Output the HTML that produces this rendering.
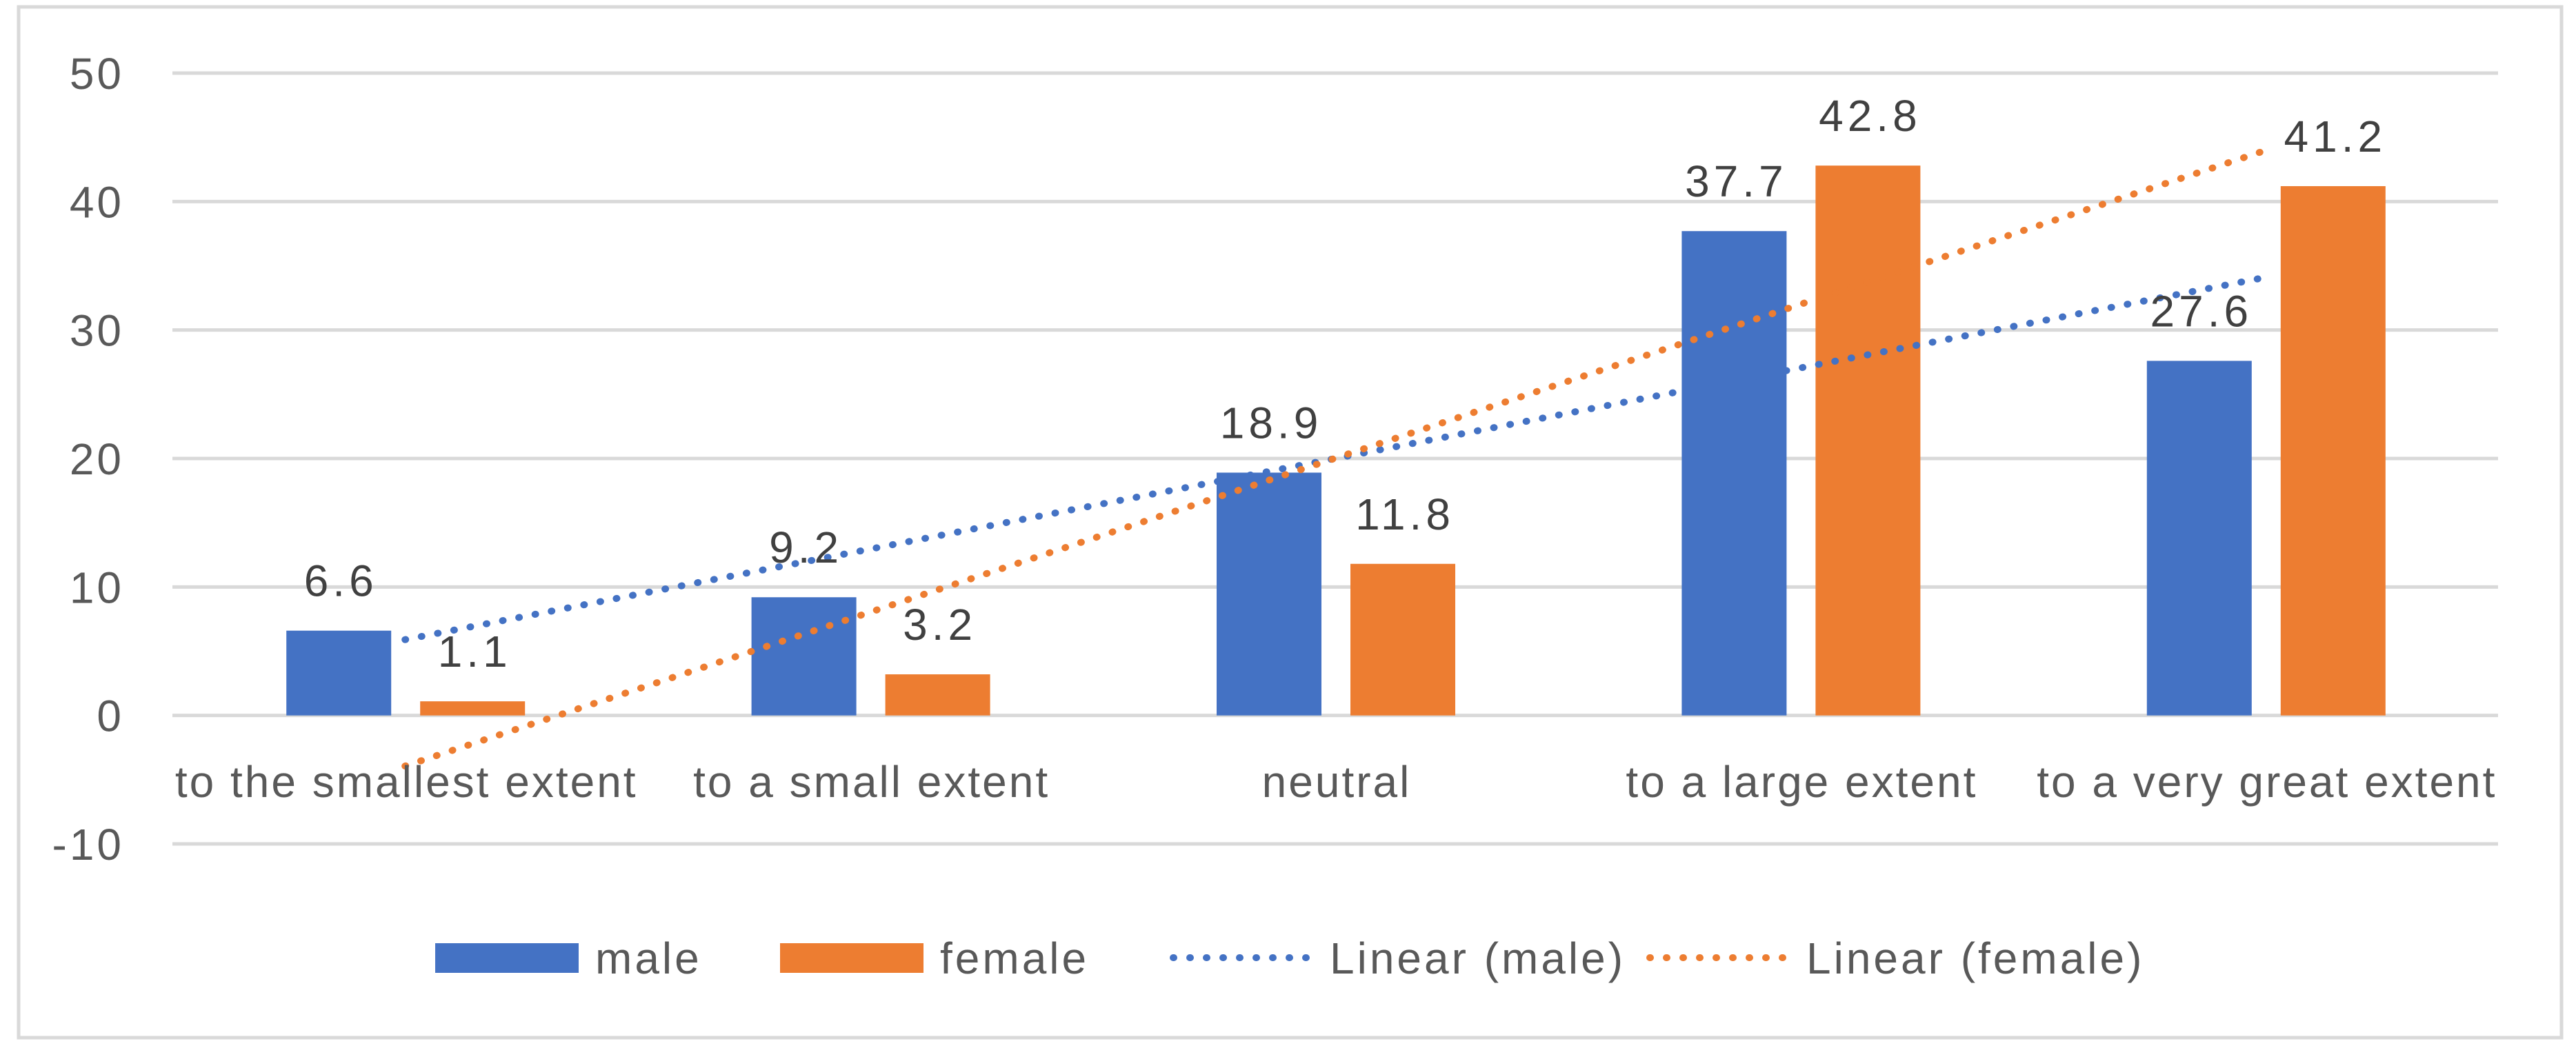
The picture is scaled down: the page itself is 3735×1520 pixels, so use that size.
<!DOCTYPE html>
<html><head><meta charset="utf-8"><style>
html,body{margin:0;padding:0;background:#fff;}
svg{display:block;font-family:"Liberation Sans",sans-serif;}
</style></head><body>
<svg id="chart" width="3735" height="1520" viewBox="0 0 3735 1520">
<rect x="27" y="10" width="3687" height="1495" fill="#fff" stroke="#d9d9d9" stroke-width="5"/>
<g id="grid"></g><g id="bars"></g><g id="trends"></g><g id="labels"></g>
<g id="legend"></g>
</svg>
<script>
const categories = ["to the smallest extent","to a small extent","neutral","to a large extent","to a very great extent"];
const maleValues = [6.6, 9.2, 18.9, 37.7, 27.6];
const femaleValues = [1.1, 3.2, 11.8, 42.8, 41.2];
const yTicks = [-10, 0, 10, 20, 30, 40, 50];

const NS = "http://www.w3.org/2000/svg";
const plotL = 250, plotR = 3622, yTop = 106, yBot = 1224;
const yMin = -10, yMax = 50;
const catW = (plotR - plotL) / categories.length;
function y(v){ return yBot - (v - yMin) / (yMax - yMin) * (yBot - yTop); }
function xc(i){ return plotL + catW * (i + 0.5); }
function mk(tag, attrs, parent){ const e = document.createElementNS(NS, tag); for (const k in attrs) e.setAttribute(k, attrs[k]); parent.appendChild(e); return e; }
const grid = document.getElementById('grid'), bars = document.getElementById('bars'), trends = document.getElementById('trends'), labels = document.getElementById('labels'), legend = document.getElementById('legend');

yTicks.forEach(t => {
  const l = mk('line', {x1: plotL, x2: plotR, y1: y(t), y2: y(t), stroke: '#d9d9d9', 'stroke-width': 5}, grid);
  
  
  const tx = mk('text', {x: 180, y: y(t) + 23, 'text-anchor': 'end', 'font-size': 64, 'letter-spacing': 4, fill: '#595959'}, grid);
  tx.textContent = t;
  
  
});

const bw = 152;
categories.forEach((c, i) => {
  const cx = xc(i);
  [[maleValues[i], cx - 172, '#4472c4', 'male'], [femaleValues[i], cx + 22, '#ed7d31', 'female']].forEach(([v, bx, col, s]) => {
    const r = mk('rect', {x: bx, y: y(v), width: bw, height: y(0) - y(v), fill: col}, bars);
    
    
    const t = mk('text', {x: bx + bw / 2 + 3, y: y(v) - 50, 'text-anchor': 'middle', 'font-size': 64, 'letter-spacing': 6, fill: '#404040'}, labels);
    t.textContent = v.toFixed(1);
    
    
  });
  const ct = mk('text', {x: cx + 2, y: 1156, 'text-anchor': 'middle', 'font-size': 64, 'letter-spacing': 3, fill: '#595959'}, labels);
  ct.textContent = c;
  
  
});

function fit(vals){
  const n = vals.length; const xs = vals.map((_, i) => i + 1);
  const mx = xs.reduce((a, b) => a + b) / n, my = vals.reduce((a, b) => a + b) / n;
  let sxy = 0, sxx = 0; xs.forEach((x, i) => { sxy += (x - mx) * (vals[i] - my); sxx += (x - mx) ** 2; });
  const b = sxy / sxx; return [my - b * mx, b];
}
[[maleValues, '#4472c4', 'trendline-male'], [femaleValues, '#ed7d31', 'trendline-female']].forEach(([vals, col, nm]) => {
  const [a, b] = fit(vals);
  const n = vals.length;
  const l = mk('line', {x1: xc(0), y1: y(a + b), x2: xc(n - 1), y2: y(a + b * n), stroke: col, 'stroke-width': 10, 'stroke-dasharray': '1 23', 'stroke-linecap': 'round'}, trends);
  
  
});

const legendItems = [["male", '#4472c4', 'rect', 631], ["female", '#ed7d31', 'rect', 1131], ["Linear (male)", '#4472c4', 'dot', 1696], ["Linear (female)", '#ed7d31', 'dot', 2387]];
legendItems.forEach(([label, col, kind, lx]) => {
  const g = mk('g', {}, legend);
  
  
  if (kind === 'rect') mk('rect', {x: lx, y: 1368, width: 208, height: 43, fill: col}, g);
  else mk('line', {x1: lx + 5, x2: lx + 205, y1: 1389, y2: 1389, stroke: col, 'stroke-width': 10, 'stroke-dasharray': '1 23', 'stroke-linecap': 'round'}, g);
  const t = mk('text', {x: lx + 232, y: 1412, 'font-size': 64, 'letter-spacing': 4, fill: '#595959'}, g);
  t.textContent = label;
});
</script>
</body></html>
